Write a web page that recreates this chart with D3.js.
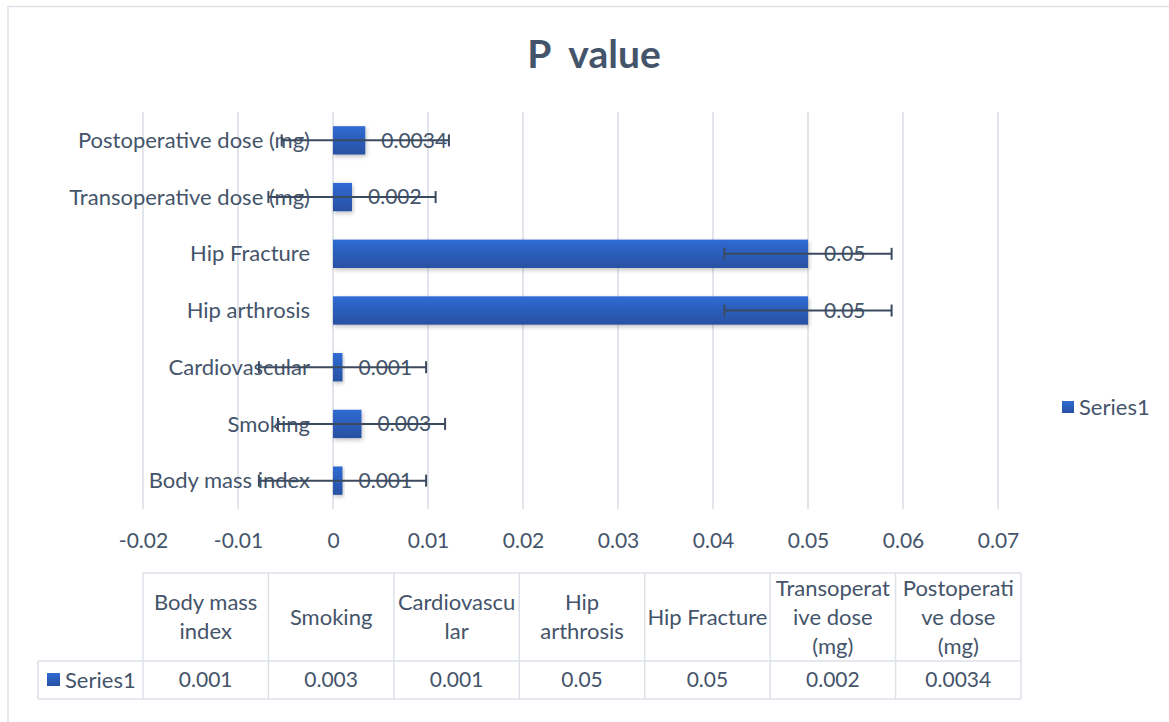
<!DOCTYPE html>
<html>
<head>
<meta charset="utf-8">
<script src="https://cdn.jsdelivr.net/npm/d3@7"></script>
<style>
  html, body { margin: 0; padding: 0; background: #fff; }
  svg { display: block; }
  text { font-family: "Lato", "Liberation Sans", sans-serif; fill: #44546A; }
</style>
</head>
<body>
<svg id="chart" width="1169" height="722"></svg>
<script>
// ---- data ----
const categories = ["Body mass index", "Smoking", "Cardiovascular", "Hip arthrosis", "Hip Fracture", "Transoperative dose (mg)", "Postoperative dose (mg)"];
const values = [0.001, 0.003, 0.001, 0.05, 0.05, 0.002, 0.0034];
const valueLabels = ["0.001", "0.003", "0.001", "0.05", "0.05", "0.002", "0.0034"];
const errors = [0.0088, 0.0088, 0.0088, 0.0088, 0.0088, 0.0088, 0.0088];
const xTicks = [-0.02, -0.01, 0, 0.01, 0.02, 0.03, 0.04, 0.05, 0.06, 0.07];
const xTickLabels = ["-0.02", "-0.01", "0", "0.01", "0.02", "0.03", "0.04", "0.05", "0.06", "0.07"];
const tableHeaderLines = [["Body mass", "index"], ["Smoking"], ["Cardiovascu", "lar"], ["Hip", "arthrosis"], ["Hip Fracture"], ["Transoperat", "ive dose", "(mg)"], ["Postoperati", "ve dose", "(mg)"]];
const seriesName = "Series1";
const title = "P  value";

// ---- layout ----
const svg = d3.select("#chart");
const textColor = "#44546A";
const gridColor = "#D9DEE6";
const plot = { left: 143, right: 998, top: 112, bottom: 509 };
const fsText = "22px", fsNum = "21px";

// outer border
svg.append("rect").attr("x", 8).attr("y", 6.5).attr("width", 1200).attr("height", 760)
  .attr("fill", "none").attr("stroke", "#DCE1E8").attr("stroke-width", 1.5);

// gradient + shadow
const defs = svg.append("defs");
const grad = defs.append("linearGradient").attr("id", "barGrad").attr("x1", 0).attr("y1", 0).attr("x2", 0).attr("y2", 1);
grad.append("stop").attr("offset", "0%").attr("stop-color", "#2F6BD3");
grad.append("stop").attr("offset", "100%").attr("stop-color", "#2850A2");
const f = defs.append("filter").attr("id", "shadow").attr("x", "-10%").attr("y", "-20%").attr("width", "130%").attr("height", "160%");
f.append("feDropShadow").attr("dx", 1).attr("dy", 2).attr("stdDeviation", 2).attr("flood-color", "#000").attr("flood-opacity", 0.25);

// title
svg.append("text").attr("x", 594).attr("y", 68).attr("text-anchor", "middle")
  .style("font-size", "39px").style("font-weight", "bold").style("white-space", "pre").text(title);

// scales
const x = d3.scaleLinear().domain([-0.02, 0.07]).range([plot.left, plot.right]);
const y = d3.scaleBand().domain(categories).range([plot.bottom, plot.top]).paddingInner(0.5).paddingOuter(0.25);

// gridlines
svg.append("g").selectAll("line").data(xTicks).join("line")
  .attr("x1", d => x(d)).attr("x2", d => x(d))
  .attr("y1", plot.top).attr("y2", plot.bottom)
  .attr("stroke", gridColor).attr("stroke-width", 1.5);

// x axis tick labels
const xAxis = d3.axisBottom(x).tickValues(xTicks).tickFormat((d, i) => xTickLabels[i]).tickSize(0).tickPadding(0);
const gx = svg.append("g").attr("transform", `translate(0,${plot.bottom + 39})`).call(xAxis);
gx.select(".domain").remove();
gx.selectAll("text").style("font-size", fsNum).style("font-family", "Lato, sans-serif").attr("fill", textColor).attr("dy", "0");

// bars
svg.append("g").selectAll("rect").data(categories).join("rect")
  .attr("x", (d, i) => x(Math.min(0, values[i])))
  .attr("y", d => y(d))
  .attr("width", (d, i) => Math.abs(x(values[i]) - x(0)))
  .attr("height", y.bandwidth())
  .attr("fill", "url(#barGrad)")
  .attr("filter", "url(#shadow)");

// category labels
const yAxis = d3.axisLeft(y).tickSize(0).tickPadding(0);
const gy = svg.append("g").attr("transform", `translate(${x(0) - 23},0)`).call(yAxis);
gy.select(".domain").remove();
gy.selectAll("text").style("font-size", fsText).style("font-family", "Lato, sans-serif").attr("fill", textColor).attr("dy", "0.35em");

// data labels
svg.append("g").selectAll("text").data(categories).join("text")
  .attr("x", (d, i) => x(values[i]) + 16)
  .attr("y", d => y(d) + y.bandwidth() / 2)
  .attr("dy", "0.35em")
  .style("font-size", fsNum)
  .text((d, i) => valueLabels[i]);

// error bars
const eb = svg.append("g").attr("stroke", "#3B4A5E").attr("stroke-width", 2);
categories.forEach((c, i) => {
  const cy = y(c) + y.bandwidth() / 2;
  const lo = x(values[i] - errors[i]), hi = x(values[i] + errors[i]);
  eb.append("line").attr("x1", lo).attr("x2", hi).attr("y1", cy).attr("y2", cy);
  eb.append("line").attr("x1", lo).attr("x2", lo).attr("y1", cy - 6).attr("y2", cy + 6);
  eb.append("line").attr("x1", hi).attr("x2", hi).attr("y1", cy - 6).attr("y2", cy + 6);
});

// legend (right)
svg.append("rect").attr("x", 1062).attr("y", 401).attr("width", 12).attr("height", 12).attr("fill", "url(#barGrad)");
svg.append("text").attr("x", 1079).attr("y", 407).attr("dy", "0.35em").style("font-size", fsText).text(seriesName);

// data table
const tbl = { left: 143, right: 1021, top: 573, mid: 661, bottom: 699, legendLeft: 38 };
const colX = d3.scaleBand().domain(categories).range([tbl.left, tbl.right]);
const tg = svg.append("g");
const bc = "#DCE1E8";
tg.append("line").attr("x1", tbl.left).attr("x2", tbl.right).attr("y1", tbl.top).attr("y2", tbl.top).attr("stroke", bc).attr("stroke-width", 1.5);
tg.append("line").attr("x1", tbl.legendLeft).attr("x2", tbl.right).attr("y1", tbl.mid).attr("y2", tbl.mid).attr("stroke", bc).attr("stroke-width", 1.5);
tg.append("line").attr("x1", tbl.legendLeft).attr("x2", tbl.right).attr("y1", tbl.bottom).attr("y2", tbl.bottom).attr("stroke", bc).attr("stroke-width", 1.5);
tg.append("line").attr("x1", tbl.legendLeft).attr("x2", tbl.legendLeft).attr("y1", tbl.mid).attr("y2", tbl.bottom).attr("stroke", bc).attr("stroke-width", 1.5);
const vx = categories.map(c => colX(c)).concat([tbl.right]);
tg.selectAll("line.v").data(vx).join("line").attr("class", "v")
  .attr("x1", d => d).attr("x2", d => d).attr("y1", tbl.top).attr("y2", tbl.bottom)
  .attr("stroke", bc).attr("stroke-width", 1.5);
const lh = 29;
categories.forEach((c, i) => {
  const lines = tableHeaderLines[i];
  const cx = colX(c) + colX.bandwidth() / 2;
  const cy = (tbl.top + tbl.mid) / 2;
  const t = tg.append("text").attr("text-anchor", "middle").style("font-size", fsText);
  lines.forEach((ln, j) => {
    t.append("tspan").attr("x", cx).attr("y", cy + (j - (lines.length - 1) / 2) * lh).attr("dy", "0.35em").text(ln);
  });
  tg.append("text").attr("x", cx).attr("y", (tbl.mid + tbl.bottom) / 2).attr("dy", "0.35em")
    .attr("text-anchor", "middle").style("font-size", fsNum).text(valueLabels[i]);
});
tg.append("rect").attr("x", 47).attr("y", 673).attr("width", 13).attr("height", 13).attr("fill", "url(#barGrad)");
tg.append("text").attr("x", 65).attr("y", 680).attr("dy", "0.35em").style("font-size", fsText).text(seriesName);
</script>
</body>
</html>
